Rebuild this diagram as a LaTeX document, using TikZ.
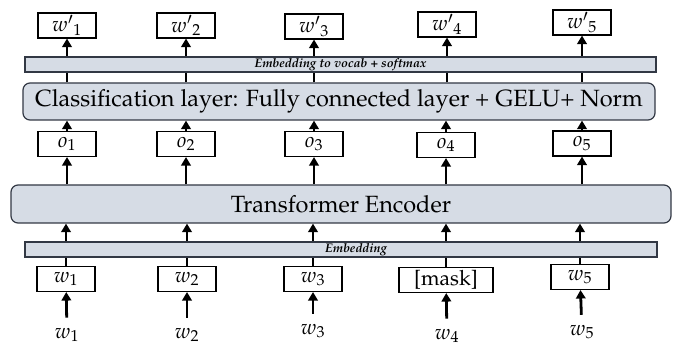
\documentclass[tikz,border=0pt]{standalone}
\usepackage[T1]{fontenc}
\usepackage{mathpazo}
\usepackage{tikz}
\usetikzlibrary{arrows.meta, positioning, calc}
\definecolor{LayerFill}{RGB}{214, 220, 229}
\definecolor{LayerEdge}{RGB}{50, 56, 68}

\begin{document}
\begin{tikzpicture}[
        x=1pt, y=-1pt,
        >={Triangle[width=9.5pt,length=8.5pt]},
        token/.style={draw=black, line width=1.1pt, fill=white, minimum width=58pt, minimum height=25pt, inner sep=0pt, font=\fontsize{21}{25}\selectfont},
        layer/.style={draw=LayerEdge, fill=LayerFill, line width=1.2pt, rounded corners=7pt, inner sep=0pt, font=\fontsize{23.5}{28}\selectfont},
        bar/.style={draw=LayerEdge, fill=LayerFill, line width=1.1pt, inner sep=0pt, minimum height=15pt},
        bar_label/.style={inner sep=0pt, font=\fontsize{12.5}{14}\selectfont\bfseries\itshape},
        word/.style={inner sep=0pt, font=\fontsize{21}{25}\selectfont},
        flow/.style={->, line width=2.8pt}
    ]
        \useasboundingbox (0,0) rectangle (674,347);

        % Layers
        \node[layer, minimum width=632pt, minimum height=37pt] (cls) at (339,101.5) {Classification layer: Fully connected layer + GELU+ Norm};
        \node[layer, minimum width=660pt, minimum height=38pt] (enc) at (341,204) {Transformer Encoder};

        % Outputs
        \node[token] (out1) at (67,25.5) {${w'}_1$};
        \node[token] (out2) at (186,25.5) {${w'}_2$};
        \node[token] (out3) at (314,26.5) {${w'}_3$};
        \node[token] (out4) at (447,24.5) {${w'}_4$};
        \node[token] (out5) at (582,22.5) {${w'}_5$};

        \node[token] (o1) at (67,144) {$o_1$};
        \node[token] (o2) at (186,144) {$o_2$};
        \node[token] (o3) at (314,144) {$o_3$};
        \node[token] (o4) at (446,145) {$o_4$};
        \node[token] (o5) at (582,143.5) {$o_5$};

        % Inputs
        \node[token] (in1) at (66,279) {$w_1$};
        \node[token] (in2) at (187,279) {$w_2$};
        \node[token] (in3) at (313,279) {$w_3$};
        \node[token, minimum width=94pt] (in4) at (446,280) {[mask]};
        \node[token] (in5) at (580,277) {$w_5$};

        \node[word] (x1) at (67,335) {$w_1$};
        \node[word] (x2) at (187,335) {$w_2$};
        \node[word] (x3) at (313,331) {$w_3$};
        \node[word] (x4) at (447,336) {$w_4$};
        \node[word] (x5) at (582,332) {$w_5$};

        % Edges
        \draw[flow, shorten <=10pt] (x1) -- (in1);
        \draw[flow, shorten <=10pt] (x2) -- (in2);
        \draw[flow, shorten <=10pt] (x3) -- (in3);
        \draw[flow, shorten <=10pt] (x4) -- (in4);
        \draw[flow, shorten <=10pt] (x5) -- (in5);

        \draw[flow] (in1.north) -- (in1.north |- enc.south);
        \draw[flow] (in2.north) -- (in2.north |- enc.south);
        \draw[flow] (in3.north) -- (in3.north |- enc.south);
        \draw[flow] (in4.north) -- (in4.north |- enc.south);
        \draw[flow] (in5.north) -- (in5.north |- enc.south);

        \draw[flow] (o1.south |- enc.north) -- (o1.south);
        \draw[flow] (o2.south |- enc.north) -- (o2.south);
        \draw[flow] (o3.south |- enc.north) -- (o3.south);
        \draw[flow] (o4.south |- enc.north) -- (o4.south);
        \draw[flow] (o5.south |- enc.north) -- (o5.south);

        \draw[flow] (o1.north) -- (o1.north |- cls.south);
        \draw[flow] (o2.north) -- (o2.north |- cls.south);
        \draw[flow] (o3.north) -- (o3.north |- cls.south);
        \draw[flow] (o4.north) -- (o4.north |- cls.south);
        \draw[flow] (o5.north) -- (o5.north |- cls.south);

        \draw[flow] (out1.south |- cls.north) -- (out1.south);
        \draw[flow] (out2.south |- cls.north) -- (out2.south);
        \draw[flow] (out3.south |- cls.north) -- (out3.south);
        \draw[flow] (out4.south |- cls.north) -- (out4.south);
        \draw[flow] (out5.south |- cls.north) -- (out5.south);

        % Bars over the edges
        \node[bar, minimum width=631pt] (vocab) at (340.5,64.5) {};
        \node[bar_label] at (vocab) {Embedding to vocab + softmax};
        \node[bar, minimum width=632pt] (embed) at (341,249.5) {};
        \node[bar_label] at (356,249.5) {Embedding};
    \end{tikzpicture}
\end{document}
